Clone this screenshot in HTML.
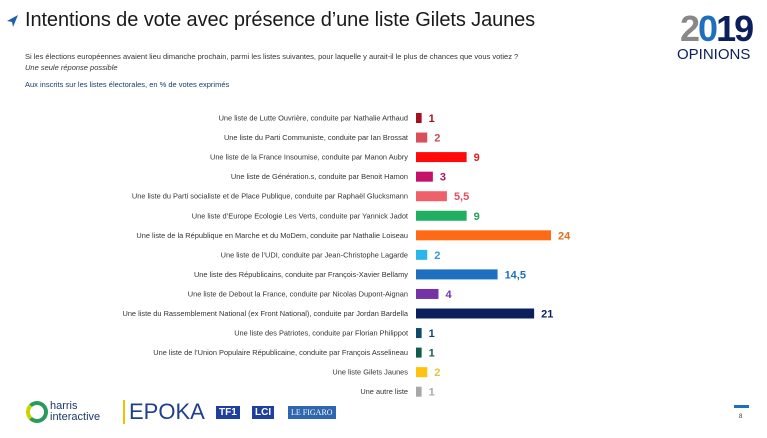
<!DOCTYPE html>
<html><head><meta charset="utf-8"><style>
body{margin:0;width:767px;height:438px;background:#fff;font-family:"Liberation Sans",sans-serif;position:relative;overflow:hidden}
.a{position:absolute;white-space:nowrap}
</style></head><body>
<svg class="a" style="left:6px;top:14px" width="14" height="14"><polygon points="12,1 1,7 6,8 7,13" fill="#1f5fb0"/></svg>
<div class="a" style="left:25px;top:9px;font-size:20px;letter-spacing:-0.1px;color:#1a1a1a">Intentions de vote avec présence d’une liste Gilets Jaunes</div>
<div class="a" style="left:25px;top:52px;font-size:7.5px;color:#333">Si les élections européennes avaient lieu dimanche prochain, parmi les listes suivantes, pour laquelle y aurait-il le plus de chances que vous votiez ?</div>
<div class="a" style="left:25px;top:63px;font-size:7.5px;font-style:italic;color:#333">Une seule réponse possible</div>
<div class="a" style="left:25px;top:80px;font-size:7.5px;color:#1a3a6e">Aux inscrits sur les listes électorales, en % de votes exprimés</div>
<div class="a" style="left:680px;top:8px;font-size:36px;font-weight:bold;letter-spacing:-2px;color:#888"><span>2</span><span style="color:#1f6fc0">0</span><span style="color:#0a1f5c">19</span></div>
<div class="a" style="left:677px;top:46px;font-size:15px;color:#0a1f5c">OPINIONS</div>
<svg id="chart" class="a" style="left:0;top:0" width="767" height="438"></svg>
<div class="a" style="left:26px;top:401px;width:14px;height:14px;border:4px solid #2a9a5a;border-radius:50%;border-left-color:#c8d400"></div>
<div class="a" style="left:50px;top:401px;font-size:11px;line-height:11px;color:#1a3a6e">harris<br>interactive</div>
<div class="a" style="left:123px;top:400px;font-size:22px;color:#1f3f8e;border-left:2px solid #f0c000;padding-left:4px;line-height:24px">EPOKA</div>
<div class="a" style="left:216px;top:406px;background:#1f3f9e;color:#fff;font-size:10px;font-weight:bold;padding:1px 3px">TF1</div>
<div class="a" style="left:252px;top:406px;background:#1f3f9e;color:#fff;font-size:10px;font-weight:bold;padding:1px 3px">LCI</div>
<div class="a" style="left:288px;top:406px;background:#2f66b0;color:#fff;font-size:8px;font-family:'Liberation Serif',serif;padding:2px 3px">LE FIGARO</div>
<div class="a" style="left:734px;top:405px;width:15px;height:3px;background:#1f6fc0"></div>
<div class="a" style="left:739px;top:414px;font-size:6px;color:#333">8</div>
<script>
const categories=["Une liste de Lutte Ouvrière, conduite par Nathalie Arthaud","Une liste du Parti Communiste, conduite par Ian Brossat","Une liste de la France Insoumise, conduite par Manon Aubry","Une liste de Génération.s, conduite par Benoit Hamon","Une liste du Parti socialiste et de Place Publique, conduite par Raphaël Glucksmann","Une liste d’Europe Ecologie Les Verts, conduite par Yannick Jadot","Une liste de la République en Marche et du MoDem, conduite par Nathalie Loiseau","Une liste de l’UDI, conduite par Jean-Christophe Lagarde","Une liste des Républicains, conduite par François-Xavier Bellamy","Une liste de Debout la France, conduite par Nicolas Dupont-Aignan","Une liste du Rassemblement National (ex Front National), conduite par Jordan Bardella","Une liste des Patriotes, conduite par Florian Philippot","Une liste de l’Union Populaire Républicaine, conduite par François Asselineau","Une liste Gilets Jaunes","Une autre liste"];
const values=[1,2,9,3,5.5,9,24,2,14.5,4,21,1,1,2,1];
const valueLabels=["1","2","9","3","5,5","9","24","2","14,5","4","21","1","1","2","1"];
const colors=["#a50f1e","#d9505a","#ff0a0a","#c4126a","#f0606a","#1fae62","#ff6a14","#2bb5ea","#1e6fc0","#7434a8","#0b1f5e","#0d4a6a","#0f5c4c","#ffc20e","#a8a8a8"];
const labelColors=["#a50f1e","#c0505a","#e02020","#b01466","#e05060","#1fa060","#e07020","#2aa0d0","#1e6fc0","#7434a8","#0b1f5e","#0d4a6a","#0f5c4c","#e8c040","#a8a8a8"];
const svg=document.getElementById('chart');const NS='http://www.w3.org/2000/svg';
const x0=416,scale=135/24,y0=118,step=19.55,bh=10;
const xs=v=>v*scale, ys=i=>y0+i*step;
categories.forEach((c,i)=>{
 const t=document.createElementNS(NS,'text');
 
 
 t.setAttribute('x',408);t.setAttribute('y',ys(i)+2.5);t.setAttribute('text-anchor','end');t.setAttribute('font-size','7.4');t.setAttribute('fill','#333');t.setAttribute('font-family','Liberation Sans, sans-serif');t.textContent=c;svg.appendChild(t);
 const r=document.createElementNS(NS,'rect');
 
 
 r.setAttribute('x',x0);r.setAttribute('y',ys(i)-bh/2);r.setAttribute('width',xs(values[i]));r.setAttribute('height',bh);r.setAttribute('fill',colors[i]);svg.appendChild(r);
 const v=document.createElementNS(NS,'text');
 
 
 v.setAttribute('x',x0+xs(values[i])+7);v.setAttribute('y',ys(i)+4);v.setAttribute('font-size','11');v.setAttribute('font-weight','bold');v.setAttribute('fill',labelColors[i]);v.setAttribute('font-family','Liberation Sans, sans-serif');v.textContent=valueLabels[i];svg.appendChild(v);
});
</script>
</body></html>
